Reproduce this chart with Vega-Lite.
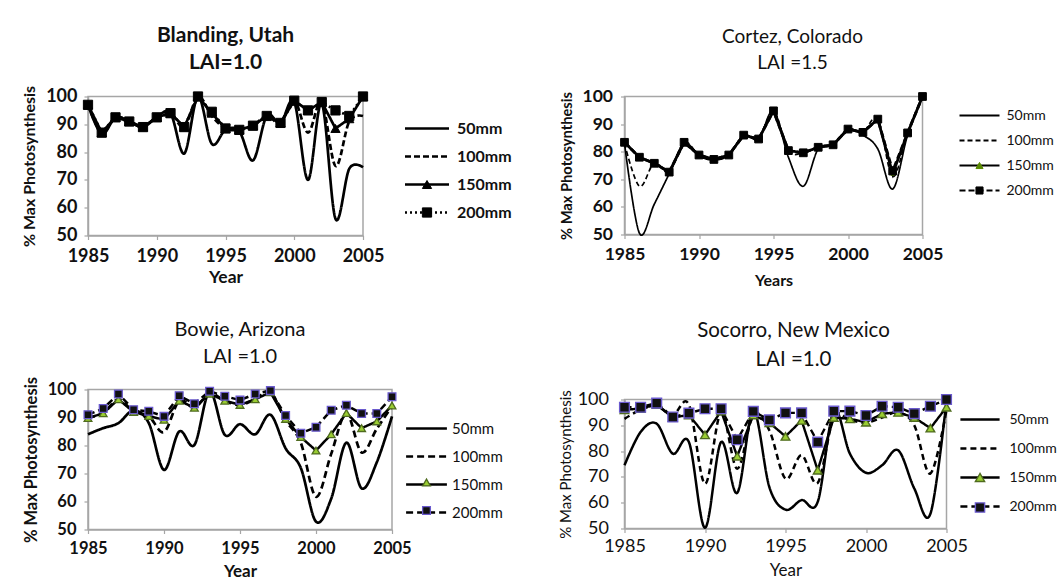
{
  "$schema": "https://vega.github.io/schema/vega-lite/v6.json",
  "padding": {"left": 20, "top": 24.5, "right": 0, "bottom": 0},
  "bounds": "flush",
  "spacing": 536.5,
  "resolve": {
    "scale": {"strokeDash": "independent", "shape": "independent", "fill": "independent", "stroke": "independent"},
    "legend": {"strokeDash": "independent", "shape": "independent", "fill": "independent", "stroke": "independent"}
  },
  "datasets": {
    "blanding": [
      {"year":1985,"series":"50mm","value":97},{"year":1985,"series":"100mm","value":97},{"year":1985,"series":"150mm","value":97},{"year":1985,"series":"200mm","value":97},
      {"year":1986,"series":"50mm","value":86.5},{"year":1986,"series":"100mm","value":87},{"year":1986,"series":"150mm","value":87},{"year":1986,"series":"200mm","value":87},
      {"year":1987,"series":"50mm","value":92.5},{"year":1987,"series":"100mm","value":92.5},{"year":1987,"series":"150mm","value":92.5},{"year":1987,"series":"200mm","value":92.5},
      {"year":1988,"series":"50mm","value":91},{"year":1988,"series":"100mm","value":91},{"year":1988,"series":"150mm","value":91},{"year":1988,"series":"200mm","value":91},
      {"year":1989,"series":"50mm","value":89},{"year":1989,"series":"100mm","value":89},{"year":1989,"series":"150mm","value":89},{"year":1989,"series":"200mm","value":89},
      {"year":1990,"series":"50mm","value":92.5},{"year":1990,"series":"100mm","value":92.5},{"year":1990,"series":"150mm","value":92.5},{"year":1990,"series":"200mm","value":92.5},
      {"year":1991,"series":"50mm","value":94},{"year":1991,"series":"100mm","value":94},{"year":1991,"series":"150mm","value":94},{"year":1991,"series":"200mm","value":94},
      {"year":1992,"series":"50mm","value":79.5},{"year":1992,"series":"100mm","value":89},{"year":1992,"series":"150mm","value":89},{"year":1992,"series":"200mm","value":89},
      {"year":1993,"series":"50mm","value":100},{"year":1993,"series":"100mm","value":100},{"year":1993,"series":"150mm","value":100},{"year":1993,"series":"200mm","value":100},
      {"year":1994,"series":"50mm","value":83},{"year":1994,"series":"100mm","value":93},{"year":1994,"series":"150mm","value":94},{"year":1994,"series":"200mm","value":94.5},
      {"year":1995,"series":"50mm","value":88},{"year":1995,"series":"100mm","value":88.5},{"year":1995,"series":"150mm","value":88.5},{"year":1995,"series":"200mm","value":88.5},
      {"year":1996,"series":"50mm","value":87.5},{"year":1996,"series":"100mm","value":88},{"year":1996,"series":"150mm","value":88},{"year":1996,"series":"200mm","value":88},
      {"year":1997,"series":"50mm","value":77},{"year":1997,"series":"100mm","value":89.5},{"year":1997,"series":"150mm","value":89.5},{"year":1997,"series":"200mm","value":89.5},
      {"year":1998,"series":"50mm","value":93},{"year":1998,"series":"100mm","value":93},{"year":1998,"series":"150mm","value":93},{"year":1998,"series":"200mm","value":93},
      {"year":1999,"series":"50mm","value":90.5},{"year":1999,"series":"100mm","value":90.5},{"year":1999,"series":"150mm","value":90.5},{"year":1999,"series":"200mm","value":90.5},
      {"year":2000,"series":"50mm","value":98},{"year":2000,"series":"100mm","value":98.5},{"year":2000,"series":"150mm","value":98.5},{"year":2000,"series":"200mm","value":98.5},
      {"year":2001,"series":"50mm","value":70},{"year":2001,"series":"100mm","value":87},{"year":2001,"series":"150mm","value":95},{"year":2001,"series":"200mm","value":95},
      {"year":2002,"series":"50mm","value":97.5},{"year":2002,"series":"100mm","value":98},{"year":2002,"series":"150mm","value":98},{"year":2002,"series":"200mm","value":98},
      {"year":2003,"series":"50mm","value":56},{"year":2003,"series":"100mm","value":75},{"year":2003,"series":"150mm","value":88.5},{"year":2003,"series":"200mm","value":95},
      {"year":2004,"series":"50mm","value":74},{"year":2004,"series":"100mm","value":91},{"year":2004,"series":"150mm","value":92},{"year":2004,"series":"200mm","value":93},
      {"year":2005,"series":"50mm","value":74.5},{"year":2005,"series":"100mm","value":93},{"year":2005,"series":"150mm","value":100},{"year":2005,"series":"200mm","value":100}
    ],
    "cortez": [
      {"year":1985,"series":"50mm","value":83},{"year":1985,"series":"100mm","value":83},{"year":1985,"series":"150mm","value":83.4},{"year":1985,"series":"200mm","value":83.4},
      {"year":1986,"series":"50mm","value":50.5},{"year":1986,"series":"100mm","value":67.5},{"year":1986,"series":"150mm","value":78},{"year":1986,"series":"200mm","value":78},
      {"year":1987,"series":"50mm","value":61},{"year":1987,"series":"100mm","value":76},{"year":1987,"series":"150mm","value":75.8},{"year":1987,"series":"200mm","value":75.8},
      {"year":1988,"series":"50mm","value":72},{"year":1988,"series":"100mm","value":72.6},{"year":1988,"series":"150mm","value":72.6},{"year":1988,"series":"200mm","value":72.6},
      {"year":1989,"series":"50mm","value":83},{"year":1989,"series":"100mm","value":83.4},{"year":1989,"series":"150mm","value":83.4},{"year":1989,"series":"200mm","value":83.4},
      {"year":1990,"series":"50mm","value":78.5},{"year":1990,"series":"100mm","value":78.8},{"year":1990,"series":"150mm","value":78.8},{"year":1990,"series":"200mm","value":78.8},
      {"year":1991,"series":"50mm","value":77},{"year":1991,"series":"100mm","value":77.2},{"year":1991,"series":"150mm","value":77.2},{"year":1991,"series":"200mm","value":77.2},
      {"year":1992,"series":"50mm","value":78.8},{"year":1992,"series":"100mm","value":78.8},{"year":1992,"series":"150mm","value":78.8},{"year":1992,"series":"200mm","value":78.8},
      {"year":1993,"series":"50mm","value":86},{"year":1993,"series":"100mm","value":86},{"year":1993,"series":"150mm","value":86},{"year":1993,"series":"200mm","value":86},
      {"year":1994,"series":"50mm","value":84.6},{"year":1994,"series":"100mm","value":84.6},{"year":1994,"series":"150mm","value":84.6},{"year":1994,"series":"200mm","value":84.6},
      {"year":1995,"series":"50mm","value":94.8},{"year":1995,"series":"100mm","value":94.8},{"year":1995,"series":"150mm","value":94.8},{"year":1995,"series":"200mm","value":94.8},
      {"year":1996,"series":"50mm","value":78},{"year":1996,"series":"100mm","value":80.4},{"year":1996,"series":"150mm","value":80.4},{"year":1996,"series":"200mm","value":80.4},
      {"year":1997,"series":"50mm","value":67.5},{"year":1997,"series":"100mm","value":79.6},{"year":1997,"series":"150mm","value":79.6},{"year":1997,"series":"200mm","value":79.6},
      {"year":1998,"series":"50mm","value":81},{"year":1998,"series":"100mm","value":81.6},{"year":1998,"series":"150mm","value":81.6},{"year":1998,"series":"200mm","value":81.6},
      {"year":1999,"series":"50mm","value":82.5},{"year":1999,"series":"100mm","value":82.5},{"year":1999,"series":"150mm","value":82.5},{"year":1999,"series":"200mm","value":82.5},
      {"year":2000,"series":"50mm","value":88},{"year":2000,"series":"100mm","value":88.2},{"year":2000,"series":"150mm","value":88.2},{"year":2000,"series":"200mm","value":88.2},
      {"year":2001,"series":"50mm","value":86},{"year":2001,"series":"100mm","value":87},{"year":2001,"series":"150mm","value":87},{"year":2001,"series":"200mm","value":87},
      {"year":2002,"series":"50mm","value":81},{"year":2002,"series":"100mm","value":91.8},{"year":2002,"series":"150mm","value":91.8},{"year":2002,"series":"200mm","value":91.8},
      {"year":2003,"series":"50mm","value":66.5},{"year":2003,"series":"100mm","value":71},{"year":2003,"series":"150mm","value":72},{"year":2003,"series":"200mm","value":73},
      {"year":2004,"series":"50mm","value":86},{"year":2004,"series":"100mm","value":86.8},{"year":2004,"series":"150mm","value":86.8},{"year":2004,"series":"200mm","value":86.8},
      {"year":2005,"series":"50mm","value":100},{"year":2005,"series":"100mm","value":100},{"year":2005,"series":"150mm","value":100},{"year":2005,"series":"200mm","value":100}
    ],
    "bowie": [
      {"year":1985,"series":"50mm","value":84},{"year":1985,"series":"100mm","value":90},{"year":1985,"series":"150mm","value":89.8},{"year":1985,"series":"200mm","value":91},
      {"year":1986,"series":"50mm","value":86.2},{"year":1986,"series":"100mm","value":91.5},{"year":1986,"series":"150mm","value":91.5},{"year":1986,"series":"200mm","value":93.2},
      {"year":1987,"series":"50mm","value":88},{"year":1987,"series":"100mm","value":96.5},{"year":1987,"series":"150mm","value":96.5},{"year":1987,"series":"200mm","value":98.4},
      {"year":1988,"series":"50mm","value":92.5},{"year":1988,"series":"100mm","value":92},{"year":1988,"series":"150mm","value":92},{"year":1988,"series":"200mm","value":92.8},
      {"year":1989,"series":"50mm","value":88},{"year":1989,"series":"100mm","value":90.5},{"year":1989,"series":"150mm","value":90.5},{"year":1989,"series":"200mm","value":92.2},
      {"year":1990,"series":"50mm","value":71.3},{"year":1990,"series":"100mm","value":84.8},{"year":1990,"series":"150mm","value":89.2},{"year":1990,"series":"200mm","value":90.4},
      {"year":1991,"series":"50mm","value":85},{"year":1991,"series":"100mm","value":96},{"year":1991,"series":"150mm","value":96},{"year":1991,"series":"200mm","value":97.8},
      {"year":1992,"series":"50mm","value":80.2},{"year":1992,"series":"100mm","value":93.5},{"year":1992,"series":"150mm","value":93.5},{"year":1992,"series":"200mm","value":94.9},
      {"year":1993,"series":"50mm","value":99.3},{"year":1993,"series":"100mm","value":98.5},{"year":1993,"series":"150mm","value":98.5},{"year":1993,"series":"200mm","value":99.4},
      {"year":1994,"series":"50mm","value":83.8},{"year":1994,"series":"100mm","value":96},{"year":1994,"series":"150mm","value":96},{"year":1994,"series":"200mm","value":97.6},
      {"year":1995,"series":"50mm","value":87.6},{"year":1995,"series":"100mm","value":94.5},{"year":1995,"series":"150mm","value":94.5},{"year":1995,"series":"200mm","value":96.2},
      {"year":1996,"series":"50mm","value":84},{"year":1996,"series":"100mm","value":96.5},{"year":1996,"series":"150mm","value":96.5},{"year":1996,"series":"200mm","value":98.4},
      {"year":1997,"series":"50mm","value":91},{"year":1997,"series":"100mm","value":99},{"year":1997,"series":"150mm","value":99},{"year":1997,"series":"200mm","value":99.6},
      {"year":1998,"series":"50mm","value":79},{"year":1998,"series":"100mm","value":89},{"year":1998,"series":"150mm","value":89.5},{"year":1998,"series":"200mm","value":90.7},
      {"year":1999,"series":"50mm","value":72},{"year":1999,"series":"100mm","value":81},{"year":1999,"series":"150mm","value":83},{"year":1999,"series":"200mm","value":84.4},
      {"year":2000,"series":"50mm","value":52.8},{"year":2000,"series":"100mm","value":61.7},{"year":2000,"series":"150mm","value":78.2},{"year":2000,"series":"200mm","value":86.5},
      {"year":2001,"series":"50mm","value":61},{"year":2001,"series":"100mm","value":77},{"year":2001,"series":"150mm","value":84},{"year":2001,"series":"200mm","value":92.6},
      {"year":2002,"series":"50mm","value":81},{"year":2002,"series":"100mm","value":91.5},{"year":2002,"series":"150mm","value":91.6},{"year":2002,"series":"200mm","value":94.4},
      {"year":2003,"series":"50mm","value":64.7},{"year":2003,"series":"100mm","value":77.5},{"year":2003,"series":"150mm","value":86.2},{"year":2003,"series":"200mm","value":91.4},
      {"year":2004,"series":"50mm","value":74},{"year":2004,"series":"100mm","value":86},{"year":2004,"series":"150mm","value":88.6},{"year":2004,"series":"200mm","value":91.4},
      {"year":2005,"series":"50mm","value":90.4},{"year":2005,"series":"100mm","value":94},{"year":2005,"series":"150mm","value":94.3},{"year":2005,"series":"200mm","value":97.4}
    ],
    "socorro": [
      {"year":1985,"series":"50mm","value":74.5},{"year":1985,"series":"100mm","value":92.5},{"year":1985,"series":"150mm","value":96},{"year":1985,"series":"200mm","value":97},
      {"year":1986,"series":"50mm","value":87.4},{"year":1986,"series":"100mm","value":96},{"year":1986,"series":"150mm","value":96.5},{"year":1986,"series":"200mm","value":97},
      {"year":1987,"series":"50mm","value":90.6},{"year":1987,"series":"100mm","value":97.5},{"year":1987,"series":"150mm","value":98},{"year":1987,"series":"200mm","value":98.6},
      {"year":1988,"series":"50mm","value":79},{"year":1988,"series":"100mm","value":94},{"year":1988,"series":"150mm","value":93},{"year":1988,"series":"200mm","value":93.2},
      {"year":1989,"series":"50mm","value":83.5},{"year":1989,"series":"100mm","value":98},{"year":1989,"series":"150mm","value":94},{"year":1989,"series":"200mm","value":94.7},
      {"year":1990,"series":"50mm","value":50.3},{"year":1990,"series":"100mm","value":67.3},{"year":1990,"series":"150mm","value":86.3},{"year":1990,"series":"200mm","value":96.4},
      {"year":1991,"series":"50mm","value":83.5},{"year":1991,"series":"100mm","value":95},{"year":1991,"series":"150mm","value":95.5},{"year":1991,"series":"200mm","value":96.4},
      {"year":1992,"series":"50mm","value":63.8},{"year":1992,"series":"100mm","value":73.2},{"year":1992,"series":"150mm","value":78},{"year":1992,"series":"200mm","value":84.4},
      {"year":1993,"series":"50mm","value":95.7},{"year":1993,"series":"100mm","value":94},{"year":1993,"series":"150mm","value":94},{"year":1993,"series":"200mm","value":95.4},
      {"year":1994,"series":"50mm","value":66},{"year":1994,"series":"100mm","value":88},{"year":1994,"series":"150mm","value":91},{"year":1994,"series":"200mm","value":92.1},
      {"year":1995,"series":"50mm","value":57.3},{"year":1995,"series":"100mm","value":69.3},{"year":1995,"series":"150mm","value":85.7},{"year":1995,"series":"200mm","value":94.8},
      {"year":1996,"series":"50mm","value":61},{"year":1996,"series":"100mm","value":78.4},{"year":1996,"series":"150mm","value":91.9},{"year":1996,"series":"200mm","value":94.8},
      {"year":1997,"series":"50mm","value":60.3},{"year":1997,"series":"100mm","value":67.7},{"year":1997,"series":"150mm","value":72.6},{"year":1997,"series":"200mm","value":83.5},
      {"year":1998,"series":"50mm","value":95.7},{"year":1998,"series":"100mm","value":93},{"year":1998,"series":"150mm","value":93},{"year":1998,"series":"200mm","value":95.5},
      {"year":1999,"series":"50mm","value":79},{"year":1999,"series":"100mm","value":92},{"year":1999,"series":"150mm","value":92.5},{"year":1999,"series":"200mm","value":95.5},
      {"year":2000,"series":"50mm","value":71.6},{"year":2000,"series":"100mm","value":91},{"year":2000,"series":"150mm","value":91.2},{"year":2000,"series":"200mm","value":93.8},
      {"year":2001,"series":"50mm","value":74.5},{"year":2001,"series":"100mm","value":93},{"year":2001,"series":"150mm","value":94.5},{"year":2001,"series":"200mm","value":97.4},
      {"year":2002,"series":"50mm","value":80.3},{"year":2002,"series":"100mm","value":95},{"year":2002,"series":"150mm","value":95},{"year":2002,"series":"200mm","value":97},
      {"year":2003,"series":"50mm","value":65.5},{"year":2003,"series":"100mm","value":90},{"year":2003,"series":"150mm","value":93},{"year":2003,"series":"200mm","value":94.5},
      {"year":2004,"series":"50mm","value":55.7},{"year":2004,"series":"100mm","value":71.3},{"year":2004,"series":"150mm","value":88.9},{"year":2004,"series":"200mm","value":97.4},
      {"year":2005,"series":"50mm","value":99.6},{"year":2005,"series":"100mm","value":96},{"year":2005,"series":"150mm","value":97},{"year":2005,"series":"200mm","value":100}
    ]
  },
  "hconcat": [
    {
      "bounds": "flush",
      "spacing": 154,
      "resolve": {
        "scale": {"strokeDash": "independent", "shape": "independent", "fill": "independent", "stroke": "independent"},
        "legend": {"strokeDash": "independent", "shape": "independent", "fill": "independent", "stroke": "independent"}
      },
      "vconcat": [
        {
          "width": 275, "height": 139,
          "data": {"name": "blanding"},
          "title": {"text": ["Blanding, Utah", "LAI=1.0"], "fontSize": 21, "fontWeight": "bold", "lineHeight": 27, "offset": 12, "frame": "group", "anchor": "middle"},
          "encoding": {
            "x": {"field": "year", "type": "quantitative", "scale": {"domain": [1985, 2005], "nice": false, "zero": false},
              "axis": {"values": [1985, 1990, 1995, 2000, 2005], "format": "d", "title": "Year", "labelFontSize": 18, "labelFontWeight": "bold", "titleFontSize": 17.5, "titleFontWeight": "bold", "tickSize": 4, "labelPadding": 8, "titlePadding": 3, "labelFlush": false}},
            "y": {"field": "value", "type": "quantitative", "scale": {"domain": [50, 100], "nice": false, "zero": false},
              "axis": {"values": [50, 60, 70, 80, 90, 100], "title": "% Max Photosynthesis", "labelFontSize": 18, "labelFontWeight": "bold", "titleFontSize": 16, "titleFontWeight": "bold", "tickSize": 4, "labelPadding": 7, "titlePadding": 8.5, "labelFlush": false}}
          },
          "layer": [
            {
              "transform": [{"filter": "datum.series === '50mm' || datum.series === '100mm'"}],
              "mark": {"type": "line", "interpolate": "cardinal", "strokeWidth": 2.7, "color": "black"},
              "encoding": {"strokeDash": {"field": "series", "type": "nominal", "scale": {"domain": ["50mm", "100mm", "150mm", "200mm"], "range": [[1, 0], [6, 3], [1, 0], [2, 3]]},
                "legend": {"title": null, "orient": "none", "legendX": 331, "legendY": 24, "symbolType": "M-5.5,0L5.5,0", "symbolSize": 64, "symbolStrokeColor": "black", "symbolStrokeWidth": 2.6, "labelFontSize": 16, "labelFontWeight": "bold", "labelOffset": 22, "rowPadding": 12, "symbolOffset": 0, "padding": 0}}}
            },
            {
              "transform": [{"filter": "datum.series === '150mm' || datum.series === '200mm'"}],
              "mark": {"type": "line", "interpolate": "linear", "strokeWidth": 2.7, "color": "black"},
              "encoding": {"strokeDash": {"field": "series", "type": "nominal", "scale": {"domain": ["50mm", "100mm", "150mm", "200mm"], "range": [[1, 0], [6, 3], [1, 0], [2, 3]]},
                "legend": {"title": null, "orient": "none", "legendX": 331, "legendY": 24, "symbolType": "M-5.5,0L5.5,0", "symbolSize": 64, "symbolStrokeColor": "black", "symbolStrokeWidth": 2.6, "labelFontSize": 16, "labelFontWeight": "bold", "labelOffset": 22, "rowPadding": 12, "symbolOffset": 0, "padding": 0}}}
            },
            {
              "transform": [{"filter": "datum.series === '150mm' || datum.series === '200mm'"}],
              "mark": {"type": "point", "filled": true, "size": 85, "opacity": 1, "strokeWidth": 1},
              "encoding": {
                "shape": {"field": "series", "type": "nominal", "scale": {"domain": ["150mm", "200mm"], "range": ["triangle-up", "square"]},
                  "legend": {"title": null, "orient": "none", "legendX": 331, "legendY": 80, "symbolSize": 85, "symbolStrokeWidth": 1, "symbolOpacity": 1, "labelFontSize": 16, "labelFontWeight": "bold", "labelOffset": 22, "rowPadding": 12, "symbolOffset": 0, "padding": 0, "labelExpr": "''"}},
                "fill": {"field": "series", "type": "nominal", "scale": {"domain": ["150mm", "200mm"], "range": ["black", "black"]},
                  "legend": {"title": null, "orient": "none", "legendX": 331, "legendY": 80, "symbolSize": 85, "symbolStrokeWidth": 1, "symbolOpacity": 1, "labelFontSize": 16, "labelFontWeight": "bold", "labelOffset": 22, "rowPadding": 12, "symbolOffset": 0, "padding": 0, "labelExpr": "''"}},
                "stroke": {"field": "series", "type": "nominal", "scale": {"domain": ["150mm", "200mm"], "range": ["black", "black"]},
                  "legend": {"title": null, "orient": "none", "legendX": 331, "legendY": 80, "symbolSize": 85, "symbolStrokeWidth": 1, "symbolOpacity": 1, "labelFontSize": 16, "labelFontWeight": "bold", "labelOffset": 22, "rowPadding": 12, "symbolOffset": 0, "padding": 0, "labelExpr": "''"}}
              }
            }
          ]
        },
        {
          "width": 304, "height": 140,
          "data": {"name": "bowie"},
          "title": {"text": ["Bowie, Arizona", "LAI =1.0"], "fontSize": 20, "fontWeight": "normal", "lineHeight": 27, "offset": 9, "frame": "group", "anchor": "middle"},
          "encoding": {
            "x": {"field": "year", "type": "quantitative", "scale": {"domain": [1985, 2005], "nice": false, "zero": false},
              "axis": {"values": [1985, 1990, 1995, 2000, 2005], "format": "d", "title": "Year", "labelFontSize": 16.5, "labelFontWeight": "bold", "titleFontSize": 17, "titleFontWeight": "bold", "tickSize": 4, "labelPadding": 6.75, "titlePadding": 6.25, "labelFlush": false}},
            "y": {"field": "value", "type": "quantitative", "scale": {"domain": [50, 100], "nice": false, "zero": false},
              "axis": {"values": [50, 60, 70, 80, 90, 100], "title": "% Max Photosynthesis", "labelFontSize": 16.5, "labelFontWeight": "bold", "titleFontSize": 16.5, "titleFontWeight": "bold", "tickSize": 4, "labelPadding": 8, "titlePadding": 8.25, "labelFlush": false}}
          },
          "layer": [
            {
              "transform": [{"filter": "datum.series === '50mm' || datum.series === '100mm'"}],
              "mark": {"type": "line", "interpolate": "cardinal", "strokeWidth": 2.7, "color": "black"},
              "encoding": {"strokeDash": {"field": "series", "type": "nominal", "scale": {"domain": ["50mm", "100mm", "150mm", "200mm"], "range": [[1, 0], [7, 4], [1, 0], [7, 4]]},
                "legend": {"title": null, "orient": "none", "legendX": 331, "legendY": 31.5, "symbolType": "M-5.1,0L5.1,0", "symbolSize": 64, "symbolStrokeColor": "black", "symbolStrokeWidth": 2.6, "labelFontSize": 15, "labelOffset": 18, "rowPadding": 12, "symbolOffset": 0, "padding": 0}}}
            },
            {
              "transform": [{"filter": "datum.series === '150mm' || datum.series === '200mm'"}],
              "mark": {"type": "line", "interpolate": "linear", "strokeWidth": 2.5, "color": "black"},
              "encoding": {"strokeDash": {"field": "series", "type": "nominal", "scale": {"domain": ["50mm", "100mm", "150mm", "200mm"], "range": [[1, 0], [7, 4], [1, 0], [7, 4]]},
                "legend": {"title": null, "orient": "none", "legendX": 331, "legendY": 31.5, "symbolType": "M-5.1,0L5.1,0", "symbolSize": 64, "symbolStrokeColor": "black", "symbolStrokeWidth": 2.6, "labelFontSize": 15, "labelOffset": 18, "rowPadding": 12, "symbolOffset": 0, "padding": 0}}}
            },
            {
              "transform": [{"filter": "datum.series === '150mm' || datum.series === '200mm'"}],
              "mark": {"type": "point", "filled": true, "size": 60, "opacity": 1, "strokeWidth": 1.3},
              "encoding": {
                "shape": {"field": "series", "type": "nominal", "scale": {"domain": ["150mm", "200mm"], "range": ["triangle-up", "square"]},
                  "legend": {"title": null, "orient": "none", "legendX": 331, "legendY": 85.5, "symbolSize": 60, "symbolStrokeWidth": 1.3, "symbolOpacity": 1, "labelFontSize": 15, "labelOffset": 18, "rowPadding": 12, "symbolOffset": 0, "padding": 0, "labelExpr": "''"}},
                "fill": {"field": "series", "type": "nominal", "scale": {"domain": ["150mm", "200mm"], "range": ["#9acd32", "#111111"]},
                  "legend": {"title": null, "orient": "none", "legendX": 331, "legendY": 85.5, "symbolSize": 60, "symbolStrokeWidth": 1.3, "symbolOpacity": 1, "labelFontSize": 15, "labelOffset": 18, "rowPadding": 12, "symbolOffset": 0, "padding": 0, "labelExpr": "''"}},
                "stroke": {"field": "series", "type": "nominal", "scale": {"domain": ["150mm", "200mm"], "range": ["#4f6b1f", "#6a5acd"]},
                  "legend": {"title": null, "orient": "none", "legendX": 331, "legendY": 85.5, "symbolSize": 60, "symbolStrokeWidth": 1.3, "symbolOpacity": 1, "labelFontSize": 15, "labelOffset": 18, "rowPadding": 12, "symbolOffset": 0, "padding": 0, "labelExpr": "''"}}
              }
            }
          ]
        }
      ]
    },
    {
      "bounds": "flush",
      "spacing": 165,
      "resolve": {
        "scale": {"strokeDash": "independent", "shape": "independent", "fill": "independent", "stroke": "independent"},
        "legend": {"strokeDash": "independent", "shape": "independent", "fill": "independent", "stroke": "independent"}
      },
      "vconcat": [
        {
          "width": 298, "height": 138,
          "data": {"name": "cortez"},
          "title": {"text": ["Cortez, Colorado", "LAI =1.5"], "fontSize": 19, "fontWeight": "normal", "lineHeight": 26, "offset": 14.5, "frame": "group", "anchor": "middle", "dx": 19},
          "encoding": {
            "x": {"field": "year", "type": "quantitative", "scale": {"domain": [1985, 2005], "nice": false, "zero": false},
              "axis": {"values": [1985, 1990, 1995, 2000, 2005], "format": "d", "title": "Years", "labelFontSize": 17.5, "labelFontWeight": "bold", "titleFontSize": 16, "titleFontWeight": "bold", "tickSize": 4, "labelPadding": 7.25, "titlePadding": 9.25, "labelFlush": false}},
            "y": {"field": "value", "type": "quantitative", "scale": {"domain": [50, 100], "nice": false, "zero": false},
              "axis": {"values": [50, 60, 70, 80, 90, 100], "title": "% Max Photosynthesis", "labelFontSize": 17.5, "labelFontWeight": "bold", "titleFontSize": 14.7, "titleFontWeight": "bold", "tickSize": 4, "labelPadding": 8, "titlePadding": 7.6, "labelFlush": false}}
          },
          "layer": [
            {
              "transform": [{"filter": "datum.series === '50mm' || datum.series === '100mm'"}],
              "mark": {"type": "line", "interpolate": "cardinal", "strokeWidth": 1.7, "color": "black"},
              "encoding": {"strokeDash": {"field": "series", "type": "nominal", "scale": {"domain": ["50mm", "100mm", "150mm", "200mm"], "range": [[1, 0], [5, 3], [1, 0], [6, 3]]},
                "legend": {"title": null, "orient": "none", "legendX": 348, "legendY": 12, "symbolType": "M-5,0L5,0", "symbolSize": 64, "symbolStrokeColor": "black", "symbolStrokeWidth": 2.2, "labelFontSize": 14, "labelOffset": 20, "rowPadding": 11, "symbolOffset": 0, "padding": 0}}}
            },
            {
              "transform": [{"filter": "datum.series === '150mm' || datum.series === '200mm'"}],
              "mark": {"type": "line", "interpolate": "linear", "strokeWidth": 2.8, "color": "black"},
              "encoding": {"strokeDash": {"field": "series", "type": "nominal", "scale": {"domain": ["50mm", "100mm", "150mm", "200mm"], "range": [[1, 0], [5, 3], [1, 0], [6, 3]]},
                "legend": {"title": null, "orient": "none", "legendX": 348, "legendY": 12, "symbolType": "M-5,0L5,0", "symbolSize": 64, "symbolStrokeColor": "black", "symbolStrokeWidth": 2.2, "labelFontSize": 14, "labelOffset": 20, "rowPadding": 11, "symbolOffset": 0, "padding": 0}}}
            },
            {
              "transform": [{"filter": "datum.series === '150mm'"}],
              "mark": {"type": "point", "filled": true, "size": 12, "opacity": 1, "strokeWidth": 1},
              "encoding": {
                "shape": {"field": "series", "type": "nominal", "scale": {"domain": ["150mm", "200mm"], "range": ["triangle-up", "square"]},
                  "legend": {"title": null, "orient": "none", "legendX": 348, "legendY": 62, "symbolSize": 50, "symbolStrokeWidth": 1, "symbolOpacity": 1, "labelFontSize": 14, "labelOffset": 20, "rowPadding": 11, "symbolOffset": 0, "padding": 0, "labelExpr": "''"}},
                "fill": {"field": "series", "type": "nominal", "scale": {"domain": ["150mm", "200mm"], "range": ["#5a8a00", "black"]},
                  "legend": {"title": null, "orient": "none", "legendX": 348, "legendY": 62, "symbolSize": 50, "symbolStrokeWidth": 1, "symbolOpacity": 1, "labelFontSize": 14, "labelOffset": 20, "rowPadding": 11, "symbolOffset": 0, "padding": 0, "labelExpr": "''"}},
                "stroke": {"field": "series", "type": "nominal", "scale": {"domain": ["150mm", "200mm"], "range": ["#5a8a00", "black"]},
                  "legend": {"title": null, "orient": "none", "legendX": 348, "legendY": 62, "symbolSize": 50, "symbolStrokeWidth": 1, "symbolOpacity": 1, "labelFontSize": 14, "labelOffset": 20, "rowPadding": 11, "symbolOffset": 0, "padding": 0, "labelExpr": "''"}}
              }
            },
            {
              "transform": [{"filter": "datum.series === '200mm'"}],
              "mark": {"type": "point", "filled": true, "size": 60, "opacity": 1, "strokeWidth": 1},
              "encoding": {
                "shape": {"field": "series", "type": "nominal", "scale": {"domain": ["150mm", "200mm"], "range": ["triangle-up", "square"]},
                  "legend": {"title": null, "orient": "none", "legendX": 348, "legendY": 62, "symbolSize": 50, "symbolStrokeWidth": 1, "symbolOpacity": 1, "labelFontSize": 14, "labelOffset": 20, "rowPadding": 11, "symbolOffset": 0, "padding": 0, "labelExpr": "''"}},
                "fill": {"field": "series", "type": "nominal", "scale": {"domain": ["150mm", "200mm"], "range": ["#5a8a00", "black"]},
                  "legend": {"title": null, "orient": "none", "legendX": 348, "legendY": 62, "symbolSize": 50, "symbolStrokeWidth": 1, "symbolOpacity": 1, "labelFontSize": 14, "labelOffset": 20, "rowPadding": 11, "symbolOffset": 0, "padding": 0, "labelExpr": "''"}},
                "stroke": {"field": "series", "type": "nominal", "scale": {"domain": ["150mm", "200mm"], "range": ["#5a8a00", "black"]},
                  "legend": {"title": null, "orient": "none", "legendX": 348, "legendY": 62, "symbolSize": 50, "symbolStrokeWidth": 1, "symbolOpacity": 1, "labelFontSize": 14, "labelOffset": 20, "rowPadding": 11, "symbolOffset": 0, "padding": 0, "labelExpr": "''"}}
              }
            }
          ]
        },
        {
          "width": 322, "height": 129,
          "data": {"name": "socorro"},
          "title": {"text": ["Socorro, New Mexico", "LAI =1.0"], "fontSize": 20.5, "fontWeight": "normal", "lineHeight": 29, "offset": 19, "frame": "group", "anchor": "middle", "dx": 8},
          "encoding": {
            "x": {"field": "year", "type": "quantitative", "scale": {"domain": [1985, 2005], "nice": false, "zero": false},
              "axis": {"values": [1985, 1990, 1995, 2000, 2005], "format": "d", "title": "Year", "labelFontSize": 18, "labelFontWeight": "normal", "titleFontSize": 17, "titleFontWeight": "normal", "tickSize": 4, "labelPadding": 5, "titlePadding": 6.5, "labelFlush": false}},
            "y": {"field": "value", "type": "quantitative", "scale": {"domain": [50, 100], "nice": false, "zero": false},
              "axis": {"values": [50, 60, 70, 80, 90, 100], "title": "% Max Photosynthesis", "labelFontSize": 18, "labelFontWeight": "normal", "titleFontSize": 15, "titleFontWeight": "normal", "tickSize": 4, "labelPadding": 12, "titlePadding": 4, "labelFlush": false}}
          },
          "layer": [
            {
              "transform": [{"filter": "datum.series === '50mm' || datum.series === '100mm'"}],
              "mark": {"type": "line", "interpolate": "cardinal", "strokeWidth": 2.5, "color": "black"},
              "encoding": {"strokeDash": {"field": "series", "type": "nominal", "scale": {"domain": ["50mm", "100mm", "150mm", "200mm"], "range": [[1, 0], [6, 4], [1, 0], [7, 4]]},
                "legend": {"title": null, "orient": "none", "legendX": 348.5, "legendY": 13, "symbolType": "M-4.9,0L4.9,0", "symbolSize": 64, "symbolStrokeColor": "black", "symbolStrokeWidth": 2.5, "labelFontSize": 14, "labelOffset": 22.5, "rowPadding": 15, "symbolOffset": 0, "padding": 0}}}
            },
            {
              "transform": [{"filter": "datum.series === '150mm' || datum.series === '200mm'"}],
              "mark": {"type": "line", "interpolate": "linear", "strokeWidth": 2.4, "color": "black"},
              "encoding": {"strokeDash": {"field": "series", "type": "nominal", "scale": {"domain": ["50mm", "100mm", "150mm", "200mm"], "range": [[1, 0], [6, 4], [1, 0], [7, 4]]},
                "legend": {"title": null, "orient": "none", "legendX": 348.5, "legendY": 13, "symbolType": "M-4.9,0L4.9,0", "symbolSize": 64, "symbolStrokeColor": "black", "symbolStrokeWidth": 2.5, "labelFontSize": 14, "labelOffset": 22.5, "rowPadding": 15, "symbolOffset": 0, "padding": 0}}}
            },
            {
              "transform": [{"filter": "datum.series === '150mm'"}],
              "mark": {"type": "point", "filled": true, "size": 75, "opacity": 1, "strokeWidth": 1.4},
              "encoding": {
                "shape": {"field": "series", "type": "nominal", "scale": {"domain": ["150mm", "200mm"], "range": ["triangle-up", "square"]},
                  "legend": {"title": null, "orient": "none", "legendX": 348.5, "legendY": 71, "symbolSize": 85, "symbolStrokeWidth": 1.4, "symbolOpacity": 1, "labelFontSize": 14, "labelOffset": 22.5, "rowPadding": 15, "symbolOffset": 0, "padding": 0, "labelExpr": "''"}},
                "fill": {"field": "series", "type": "nominal", "scale": {"domain": ["150mm", "200mm"], "range": ["#9acd32", "#111111"]},
                  "legend": {"title": null, "orient": "none", "legendX": 348.5, "legendY": 71, "symbolSize": 85, "symbolStrokeWidth": 1.4, "symbolOpacity": 1, "labelFontSize": 14, "labelOffset": 22.5, "rowPadding": 15, "symbolOffset": 0, "padding": 0, "labelExpr": "''"}},
                "stroke": {"field": "series", "type": "nominal", "scale": {"domain": ["150mm", "200mm"], "range": ["#4f6b1f", "#6a5acd"]},
                  "legend": {"title": null, "orient": "none", "legendX": 348.5, "legendY": 71, "symbolSize": 85, "symbolStrokeWidth": 1.4, "symbolOpacity": 1, "labelFontSize": 14, "labelOffset": 22.5, "rowPadding": 15, "symbolOffset": 0, "padding": 0, "labelExpr": "''"}}
              }
            },
            {
              "transform": [{"filter": "datum.series === '200mm'"}],
              "mark": {"type": "point", "filled": true, "size": 95, "opacity": 1, "strokeWidth": 1.4},
              "encoding": {
                "shape": {"field": "series", "type": "nominal", "scale": {"domain": ["150mm", "200mm"], "range": ["triangle-up", "square"]},
                  "legend": {"title": null, "orient": "none", "legendX": 348.5, "legendY": 71, "symbolSize": 85, "symbolStrokeWidth": 1.4, "symbolOpacity": 1, "labelFontSize": 14, "labelOffset": 22.5, "rowPadding": 15, "symbolOffset": 0, "padding": 0, "labelExpr": "''"}},
                "fill": {"field": "series", "type": "nominal", "scale": {"domain": ["150mm", "200mm"], "range": ["#9acd32", "#111111"]},
                  "legend": {"title": null, "orient": "none", "legendX": 348.5, "legendY": 71, "symbolSize": 85, "symbolStrokeWidth": 1.4, "symbolOpacity": 1, "labelFontSize": 14, "labelOffset": 22.5, "rowPadding": 15, "symbolOffset": 0, "padding": 0, "labelExpr": "''"}},
                "stroke": {"field": "series", "type": "nominal", "scale": {"domain": ["150mm", "200mm"], "range": ["#4f6b1f", "#6a5acd"]},
                  "legend": {"title": null, "orient": "none", "legendX": 348.5, "legendY": 71, "symbolSize": 85, "symbolStrokeWidth": 1.4, "symbolOpacity": 1, "labelFontSize": 14, "labelOffset": 22.5, "rowPadding": 15, "symbolOffset": 0, "padding": 0, "labelExpr": "''"}}
              }
            }
          ]
        }
      ]
    }
  ],
  "config": {
    "font": "Lato",
    "background": "white",
    "view": {"stroke": "#a6a6a6", "strokeWidth": 1.5},
    "axis": {"grid": false, "domainColor": "#a6a6a6", "domainWidth": 1.5, "tickColor": "#a6a6a6", "tickWidth": 1.2, "labelColor": "#111111", "titleColor": "#111111", "labelFont": "Lato", "titleFont": "Lato"},
    "legend": {"padding": 0, "labelFont": "Lato", "labelColor": "#111111"},
    "title": {"font": "Lato", "color": "#111111"}
  }
}
